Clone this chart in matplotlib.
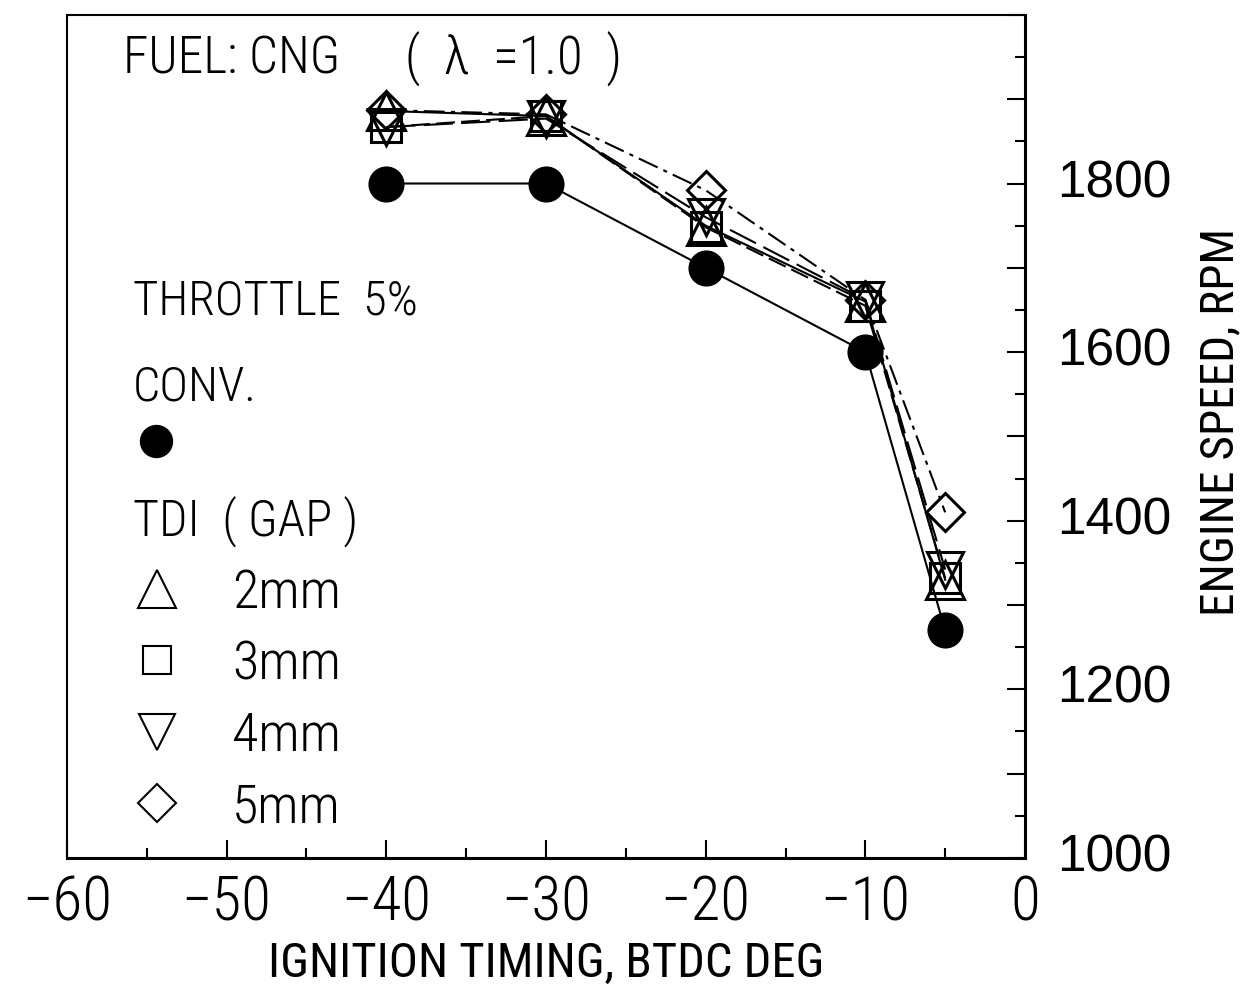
import matplotlib.pyplot as plt
from matplotlib import font_manager
from matplotlib.lines import Line2D
from matplotlib.ticker import MultipleLocator, FixedLocator

# pick a narrow sans face if one is available
installed = font_manager.fontManager.ttflist
names = {f.name for f in installed}
narrow = None
for cand in ['Liberation Sans Narrow', 'DejaVu Sans Condensed', 'Roboto Condensed',
             'Open Sans Condensed', 'Noto Sans Condensed']:
    if cand in names:
        narrow = (cand, 'normal')
        break
if narrow is None:
    cond = [f for f in installed if f.stretch in ('condensed', 'semi-condensed')
            and f.name in ('DejaVu Sans', 'Roboto', 'Open Sans', 'Noto Sans')]
    if cond:
        narrow = (cond[0].name, 'condensed')
if narrow is None:
    narrow = ('Liberation Sans', 'normal')
    fs = 30
else:
    fs = 35

plt.rcParams['font.family'] = [narrow[0], 'DejaVu Sans']
plt.rcParams['font.stretch'] = narrow[1]
plt.rcParams['font.weight'] = 'light'

# Ignition timing (deg, negative = BTDC) and measured engine speed (rpm)
timing = [-40, -30, -20, -10, -5]
conv_rpm = [1800, 1800, 1700, 1600, 1270]
gap_2mm = [1886, 1880, 1750, 1660, 1330]
gap_3mm = [1867, 1880, 1748, 1655, 1332]
gap_4mm = [1867, 1877, 1760, 1662, 1342]
gap_5mm = [1887, 1882, 1792, 1662, 1410]

gap_labels = ['2mm', '3mm', '4mm', '5mm']
x_ticks = [-60, -50, -40, -30, -20, -10, 0]
y_ticks = [1000, 1200, 1400, 1600, 1800]

fig = plt.figure(figsize=(12.45, 9.93), dpi=100)
ax = fig.add_axes([0.0538, 0.136, 0.7695, 0.849])

# conventional ignition
ax.plot(timing, conv_rpm, color='black', lw=1.5, marker='o', ms=25,
        mfc='black', mec='black', zorder=4)

# TDI with different gap sizes
markers = ['^', 's', 'v', 'D']
msizes = [27, 21, 26, 19]
styles = ['-', (0, (9, 3)), (0, (14, 4)), (0, (10, 3, 2, 3))]
for vals, mk, size, ls in zip([gap_2mm, gap_3mm, gap_4mm, gap_5mm],
                              markers, msizes, styles):
    ax.plot(timing, vals, color='black', lw=1.5, ls=ls, marker=mk, ms=size,
            mfc='none', mec='black', mew=2.2, zorder=3)

ax.set_xlim(-60, 0)
ax.set_ylim(1000, 2000)

# x axis: ticks pointing in, labels every 10 deg
ax.xaxis.set_major_locator(FixedLocator(x_ticks))
ax.xaxis.set_minor_locator(MultipleLocator(5))
ax.set_xticklabels([str(v).replace('-', '\u2212') for v in x_ticks])
ax.tick_params(axis='x', which='major', direction='in', length=13, width=1.5,
               labelsize=fs + 9, pad=12, top=False)
ax.tick_params(axis='x', which='minor', direction='in', length=7, width=1.5,
               top=False)

# y axis on the right side
ax.yaxis.tick_right()
ax.yaxis.set_major_locator(MultipleLocator(100))
ax.yaxis.set_minor_locator(MultipleLocator(50))
ax.set_yticklabels([])
ax.tick_params(axis='y', which='major', direction='in', length=13, width=1.5,
               left=False, right=True)
ax.tick_params(axis='y', which='minor', direction='in', length=7, width=1.5,
               left=False, right=True)
for v in y_ticks:
    ax.annotate(str(v), xy=(1, v), xycoords=('axes fraction', 'data'),
                xytext=(23, 0), textcoords='offset points', ha='left',
                va='center', fontsize=37, family='Liberation Sans',
                stretch='normal', weight='normal')

ax.set_xlabel('IGNITION TIMING, BTDC DEG', fontsize=fs, labelpad=6)
ax.yaxis.set_label_position('right')
ax.set_ylabel('ENGINE SPEED, RPM', fontsize=fs - 1, rotation=90)
ax.yaxis.set_label_coords(1.181, 0.517)

for side in ['left', 'top']:
    ax.spines[side].set_linewidth(1.5)
for side in ['right', 'bottom']:
    ax.spines[side].set_linewidth(2.2)

# annotations
ax.text(0.058, 0.947, 'FUEL: CNG', transform=ax.transAxes, fontsize=fs + 2,
        va='center', ha='left')
ax.text(0.353, 0.947, '(  \u03bb  =1.0  )', transform=ax.transAxes,
        fontsize=fs + 3, va='center', ha='left')
ax.text(0.069, 0.660, 'THROTTLE  5%', transform=ax.transAxes, fontsize=fs,
        va='center', ha='left')
ax.text(0.069, 0.558, 'CONV.', transform=ax.transAxes, fontsize=fs,
        va='center', ha='left')
ax.text(0.069, 0.399, 'TDI  ( GAP )', transform=ax.transAxes, fontsize=fs + 1,
        va='center', ha='left')

conv_handle = [Line2D([], [], ls='none', marker='o', ms=23, mfc='black',
                      mec='black')]
leg1 = ax.legend(conv_handle, [''], loc='center left',
                 bbox_to_anchor=(0.068, 0.49), frameon=False, fontsize=fs,
                 handlelength=1.0, borderpad=0, borderaxespad=0)
ax.add_artist(leg1)

gap_handles = [Line2D([], [], ls='none', marker=mk, ms=size, mfc='none',
                      mec='black', mew=1.5)
               for mk, size in zip(markers, [27, 20, 26, 19])]
ax.legend(gap_handles, gap_labels, loc='upper left',
          bbox_to_anchor=(0.068, 0.345), frameon=False, fontsize=fs + 4,
          handlelength=0.9, handletextpad=0.95, labelspacing=0.37,
          borderpad=0, borderaxespad=0)

fig.savefig('out.png', dpi=100)
